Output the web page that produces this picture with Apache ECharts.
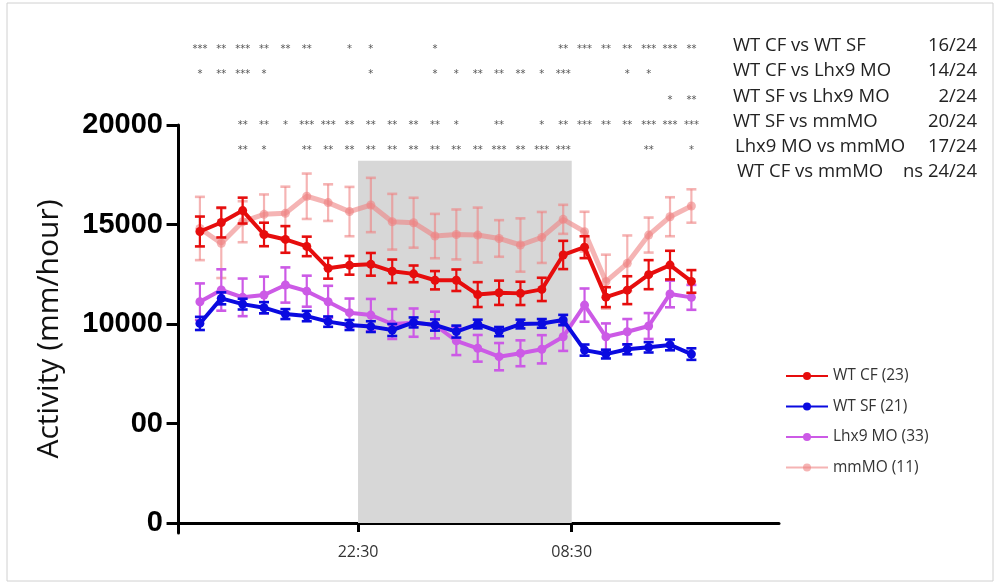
<!DOCTYPE html>
<html>
<head>
<meta charset="utf-8">
<script src="https://cdn.jsdelivr.net/npm/echarts@6/dist/echarts.min.js"></script>
<style>
  html, body { margin: 0; padding: 0; background: #fff; }
  #chart { width: 999px; height: 583px; }
</style>
</head>
<body>
<div id="chart"></div>
<script>
// Hourly bins, in hours from the axis origin
const hours = [1, 2, 3, 4, 5, 6, 7, 8, 9, 10, 11, 12, 13, 14, 15, 16, 17, 18, 19, 20, 21, 22, 23, 24];

// Dark phase (lights off 22:30 -> lights on 08:30)
const tickHours = [8.4, 18.4];
const tickLabels = ['22:30', '08:30'];
const darkTop = 18200;

const yTicks = [0, 5000, 10000, 15000, 20000];
const yTickLabels = ['0', '00', '10000', '15000', '20000'];

// Group names and animal counts
const groupNames = ['WT CF', 'WT SF', 'Lhx9 MO', 'mmMO'];
const groupN = [23, 21, 33, 11];

// Mean activity (mm/hour) and SEM per hour
const wtCF = [14650, 15100, 15700, 14500, 14250, 13900, 12800, 12950, 13000, 12650, 12520, 12200,
              12200, 11480, 11570, 11540, 11740, 13470, 13860, 11350, 11700, 12480, 12960, 12140];
const wtCFErr = [750, 750, 650, 590, 670, 490, 520, 470, 570, 590, 420, 460,
                 540, 625, 610, 585, 585, 710, 550, 500, 700, 730, 720, 570];

const wtSF = [10030, 11290, 11000, 10820, 10500, 10400, 10120, 9950, 9870, 9700, 10080, 9950,
              9620, 10000, 9620, 10000, 10030, 10200, 8690, 8490, 8730, 8830, 8950, 8490];
const wtSFErr = [330, 300, 270, 280, 250, 260, 260, 250, 270, 300, 250, 280,
                 300, 220, 230, 220, 220, 260, 280, 220, 250, 260, 270, 290];

const lhx9MO = [11120, 11710, 11340, 11460, 11960, 11650, 11120, 10570, 10450, 10000, 10070, 9950,
                9150, 8780, 8360, 8530, 8730, 9360, 10950, 9360, 9610, 9900, 11510, 11340];
const lhx9MOErr = [920, 1040, 945, 920, 885, 780, 800, 710, 810, 750, 710, 670,
                   710, 670, 685, 650, 710, 710, 835, 670, 640, 650, 670, 625];

const mmMO = [14800, 14060, 15140, 15510, 15560, 16420, 16100, 15650, 15980, 15140, 15090, 14420,
              14500, 14470, 14300, 13970, 14350, 15260, 14640, 12130, 13050, 14470, 15390, 15930];
const mmMOErr = [1590, 1750, 1030, 1000, 1340, 1140, 920, 1240, 1365, 1400, 1255, 1115,
                 1255, 1380, 920, 1340, 1280, 730, 1000, 1355, 1400, 880, 980, 840];

// Pairwise comparisons: significance per hour ('' = not significant)
const compNames = ['WT CF vs WT SF', 'WT CF vs Lhx9 MO', 'WT SF vs Lhx9 MO', 'WT SF vs mmMO', 'Lhx9 MO vs mmMO', 'WT CF vs mmMO'];
const compCounts = ['16/24', '14/24', '2/24', '20/24', '17/24', 'ns 24/24'];
const sigCFvsSF = ['***', '**', '***', '**', '**', '**', '', '*', '*', '', '', '*',
                   '', '', '', '', '', '**', '***', '**', '**', '***', '***', '**'];
const sigCFvsLhx = ['*', '**', '***', '*', '', '', '', '', '*', '', '', '*',
                    '*', '**', '**', '**', '*', '***', '', '', '*', '*', '', ''];
const sigSFvsLhx = ['', '', '', '', '', '', '', '', '', '', '', '',
                    '', '', '', '', '', '', '', '', '', '', '*', '**'];
const sigSFvsMM = ['', '', '**', '**', '*', '***', '***', '**', '**', '**', '**', '**',
                   '*', '', '**', '', '*', '**', '***', '**', '**', '***', '***', '***'];
const sigLhxvsMM = ['', '', '**', '*', '', '**', '**', '**', '**', '**', '**', '**',
                    '**', '**', '***', '**', '***', '***', '', '', '', '**', '', '*'];
const sigRows = [sigCFvsSF, sigCFvsLhx, sigSFvsLhx, sigSFvsMM, sigLhxvsMM];

const colors = ['#e60d0d', '#0a0ae0', '#cc5ae6', 'rgba(238,130,130,0.6)'];
const rowY = [46, 71, 97, 122, 147, 172];

const chart = echarts.init(document.getElementById('chart'));

function pairs(vals) { return hours.map((h, i) => [h, vals[i]]); }

function lineSeries(idx, vals, z) {
  return {
    name: groupNames[idx],
    type: 'line',
    data: pairs(vals),
    z: z,
    symbol: 'circle',
    symbolSize: 9,
    lineStyle: { color: colors[idx], width: idx === 3 ? 5 : 4 },
    itemStyle: { color: colors[idx] },
    emphasis: { disabled: true },
    animation: false
  };
}

function errSeries(idx, vals, errs, z) {
  const color = colors[idx];
  return {
    type: 'custom',
    z: z,
    data: hours.map((h, i) => [h, vals[i] - errs[i], vals[i] + errs[i]]),
    renderItem: function (params, api) {
      const x = api.value(0);
      const lo = api.coord([x, api.value(1)]);
      const hi = api.coord([x, api.value(2)]);
      const hw = 5;
      const st = { stroke: color, lineWidth: 2.2 };
      return {
        type: 'group',
        children: [
          { type: 'line', shape: { x1: lo[0], y1: lo[1], x2: hi[0], y2: hi[1] }, style: st },
          { type: 'line', shape: { x1: lo[0] - hw, y1: lo[1], x2: lo[0] + hw, y2: lo[1] }, style: { stroke: color, lineWidth: 2.6 } },
          { type: 'line', shape: { x1: hi[0] - hw, y1: hi[1], x2: hi[0] + hw, y2: hi[1] }, style: { stroke: color, lineWidth: 2.6 } }
        ]
      };
    },
    silent: true,
    animation: false
  };
}

// Significance stars placed above each hourly bin
const starData = [];
sigRows.forEach((row, r) => {
  row.forEach((s, i) => { if (s) starData.push([hours[i], r, s]); });
});

const starSeries = {
  type: 'custom',
  clip: false,
  silent: true,
  animation: false,
  data: starData,
  renderItem: function (params, api) {
    const x = api.coord([api.value(0), 0])[0];
    const r = api.value(1);
    return {
      type: 'text',
      style: {
        text: starData[params.dataIndex][2],
        x: x,
        y: rowY[r] + 3,
        align: 'center',
        verticalAlign: 'middle',
        fill: '#555',
        font: '10px "DejaVu Sans"'
      }
    };
  }
};

// Comparison table at the top right
const tableGraphics = [];
compNames.forEach((name, i) => {
  tableGraphics.push({
    type: 'text', x: i === 5 ? 737 : (i === 4 ? 735 : 733), y: rowY[i],
    style: { text: name, font: '18.5px "Open Sans"', fill: '#222', verticalAlign: 'middle' }
  });
  tableGraphics.push({
    type: 'text', x: 977, y: rowY[i],
    style: { text: compCounts[i], font: '18.5px "Open Sans"', fill: '#222', align: 'right', verticalAlign: 'middle' }
  });
});

const option = {
  backgroundColor: '#fff',
  animation: false,
  grid: { left: 170, right: 220, top: 125, bottom: 50, containLabel: false },
  xAxis: {
    type: 'value',
    min: -0.4,
    max: 28.1,
    axisLine: { onZero: true, lineStyle: { color: '#000', width: 3 } },
    axisTick: { customValues: tickHours, length: 9, lineStyle: { color: '#000', width: 3 } },
    axisLabel: {
      customValues: tickHours,
      formatter: function (v) {
        const k = tickHours.findIndex(t => Math.abs(t - v) < 1e-6);
        return k >= 0 ? tickLabels[k] : '';
      },
      fontFamily: 'Open Sans', fontSize: 16, color: '#333', margin: 11
    },
    splitLine: { show: false }
  },
  yAxis: {
    type: 'value',
    min: -500,
    max: 20000,
    axisLine: { onZero: true, lineStyle: { color: '#000', width: 3 } },
    axisTick: { customValues: yTicks, length: 12, lineStyle: { color: '#000', width: 3 } },
    axisLabel: {
      customValues: yTicks,
      formatter: function (v) {
        const k = yTicks.indexOf(v);
        return k >= 0 ? yTickLabels[k] : '';
      },
      fontFamily: 'Liberation Sans', fontWeight: 'bold', fontSize: 29, color: '#000', margin: 7
    },
    splitLine: { show: false },
    name: 'Activity (mm/hour)',
    nameLocation: 'middle',
    nameGap: 106,
    nameTextStyle: { fontFamily: 'Open Sans', fontSize: 30, color: '#111' }
  },
  legend: {
    data: groupNames,
    orient: 'vertical',
    left: 780,
    top: 363,
    itemWidth: 42,
    itemHeight: 10,
    itemGap: 14.5,
    formatter: function (name) {
      return name + ' (' + groupN[groupNames.indexOf(name)] + ')';
    },
    textStyle: { fontFamily: 'Open Sans', fontSize: 15.5, color: '#333' },
    selectedMode: false
  },
  graphic: [
    { type: 'rect', shape: { x: 7, y: 3, width: 986, height: 578 }, style: { fill: 'none', stroke: '#d0d0d0', lineWidth: 1 }, z: -1 }
  ].concat(tableGraphics),
  series: [
    {
      type: 'line', data: [], silent: true,
      markArea: {
        silent: true,
        itemStyle: { color: '#d7d7d7' },
        data: [[{ xAxis: tickHours[0], yAxis: 0 }, { xAxis: tickHours[1], yAxis: darkTop }]]
      }
    },
    errSeries(3, mmMO, mmMOErr, 3), lineSeries(3, mmMO, 4),
    errSeries(2, lhx9MO, lhx9MOErr, 5), lineSeries(2, lhx9MO, 6),
    errSeries(1, wtSF, wtSFErr, 7), lineSeries(1, wtSF, 8),
    errSeries(0, wtCF, wtCFErr, 9), lineSeries(0, wtCF, 10),
    starSeries
  ]
};

chart.setOption(option);
</script>
</body>
</html>
